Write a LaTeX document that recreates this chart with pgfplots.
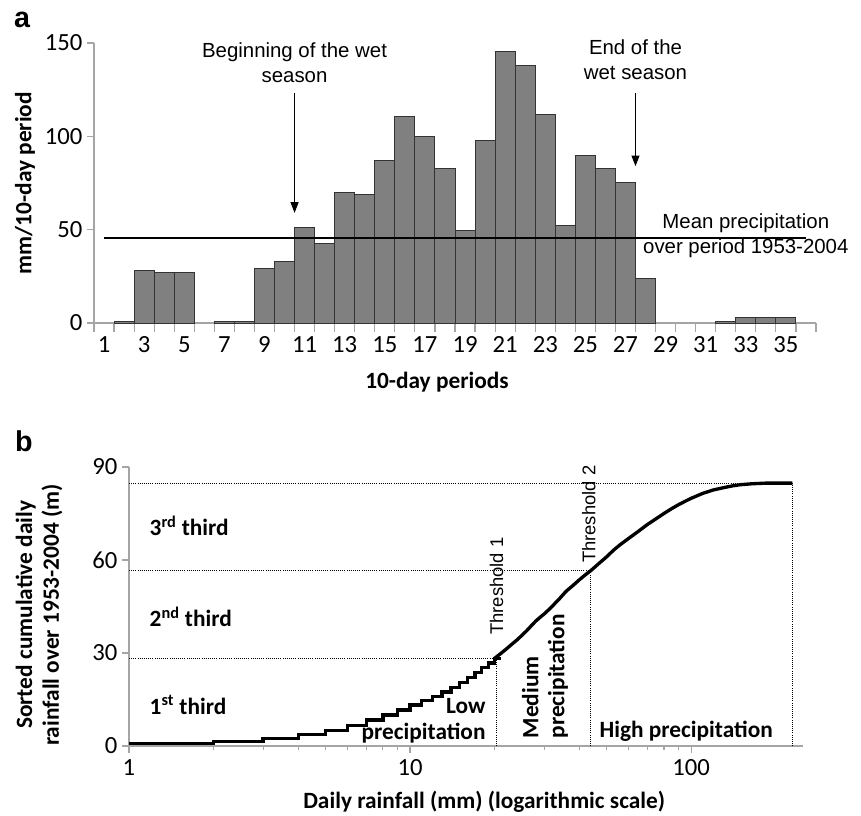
\documentclass[border=0pt]{standalone}
\usepackage{pgfplots}
\pgfplotsset{compat=1.18}
\usepackage{fontspec}
\setmainfont{Carlito}
\newfontfamily\arial{Liberation Sans}
\usetikzlibrary{arrows.meta}
\definecolor{axgray}{RGB}{165,165,165}
\definecolor{barfill}{RGB}{128,128,128}

\pgfplotstableread{
period value
2 1
3 28
4 27
5 27
7 1
8 1
9 29
10 33
11 51
12 42.5
13 70
14 69
15 87
16 110.5
17 100
18 82.7
19 49.5
20 98
21 145.3
22 137.7
23 111.8
24 52.1
25 89.6
26 82.7
27 75.2
28 23.6
32 1
33 3
34 3
35 3
}\bars

\pgfplotstableread{
x y
1 0.9
2 1.4
3 2.5
4 3.7
5 5.0
6 6.7
7 8.4
8 10.0
9 11.6
10 13.2
11 14.6
12 16.0
13 17.4
14 18.9
15 20.5
16 22.2
17 23.8
18 25.3
19 26.8
20 28.3
21 28.3
}\curvelow

\pgfplotstableread{
x y
20 28.3
21 29.8
22 31.3
23 32.8
24 34.2
25 35.7
26 37.2
27 38.8
28 40.3
29 41.5
30 42.6
31 43.8
32 45.0
33 46.3
34 47.5
35 48.8
36 50.0
38 51.8
40 53.6
42 55.2
44 56.6
47 58.9
50 61.0
53 63.2
56 65.0
60 67.0
65 69.3
70 71.5
75 73.3
80 75.0
85 76.5
90 77.8
95 78.9
100 79.9
110 81.5
120 82.6
130 83.3
140 83.9
150 84.3
165 84.6
185 84.8
229 84.8
}\curvehigh

\begin{document}
\begin{tikzpicture}
\useasboundingbox (0,0) rectangle (645.75pt,-612pt);
\pgfplotsset{
  every axis/.append style={
    scale only axis,
    axis x line=bottom, axis y line=left,
    axis line style={draw=axgray, line width=0.9pt, -},
    tick style={draw=axgray, line width=0.9pt},
    tick align=outside,
    major tick length=5.25pt,
    /pgf/number format/assume math mode=true,
    tick label style={font=\fontsize{18.5}{20}\selectfont},
    xticklabel style={text height=12pt, text depth=0pt},
    label style={font=\bfseries\fontsize{17.5}{20}\selectfont},
    clip=false,
  }
}
% ---------------- panel a
\begin{axis}[at={(70.5pt,-242.25pt)}, anchor=south west,
  width=541.5pt, height=210pt,
  xmin=0.5, xmax=36.5, ymin=0, ymax=150,
  xtick={1,3,...,35}, ytick={0,50,100,150},
  minor xtick={0.5,1.5,...,36.5},
  major x tick style={draw=none},
  minor x tick style={draw=axgray, line width=0.9pt},
  minor tick length=6.5pt,
  xticklabel style={yshift=-1pt},
  ylabel={mm/10-day period}, xlabel={10-day periods},
  ylabel style={at={(axis description cs:-0.0956,0.5)}, anchor=center},
  xlabel style={at={(axis description cs:0.475,-0.21)}, anchor=center},
]
\addplot[ybar, bar width=1, bar shift=0pt, fill=barfill, draw=black!80, line width=0.7pt] table[x=period, y=value] {\bars};
\addplot[black, line width=1.5pt] coordinates {(1,45.5) (36,45.5)};
\draw[line width=0.8pt, -{Triangle[length=8pt,width=6pt]}] (axis cs:10.5,123) -- (axis cs:10.5,59);
\draw[line width=0.8pt, -{Triangle[length=8pt,width=6pt]}] (axis cs:27.5,123) -- (axis cs:27.5,84);
\node[font=\arial\fontsize{15.3}{18.5}\selectfont, align=center] at (axis cs:10.5,139.5) {Beginning of the wet\\season};
\node[font=\arial\fontsize{15.3}{18.5}\selectfont, align=center] at (axis cs:27.5,141) {End of the\\wet season};
\node[font=\arial\fontsize{15.3}{18.5}\selectfont, align=center] at (axis cs:33.0,46.9) {Mean precipitation\\over period 1953-2004};
\end{axis}
% ---------------- panel b
\begin{axis}[at={(96.75pt,-559.5pt)}, anchor=south west,
  width=505.5pt, height=209.25pt,
  xmode=log, xmin=1, xmax=250, ymin=0, ymax=90,
  xtick={1,10,100}, xticklabels={1,10,100}, minor xtick={},
  ytick={0,30,60,90},
  xticklabel style={yshift=-1pt},
  ylabel={Sorted cumulative daily\\rainfall over 1953-2004 (m)},
  xlabel={Daily rainfall (mm) (logarithmic scale)},
  ylabel style={at={(axis description cs:-0.1335,0.47)}, anchor=center, align=center},
  xlabel style={at={(axis description cs:0.527,-0.2)}, anchor=center},
]
\addplot[black, line width=0.6pt, densely dotted] coordinates {(1,84.8) (229,84.8)};
\addplot[black, line width=0.6pt, densely dotted] coordinates {(1,56.5) (43.7,56.5)};
\addplot[black, line width=0.6pt, densely dotted] coordinates {(1,28.3) (20.2,28.3)};
\addplot[black, line width=0.6pt, densely dotted] coordinates {(20.2,0) (20.2,28.3)};
\addplot[black, line width=0.6pt, densely dotted] coordinates {(43.7,0) (43.7,56.5)};
\addplot[black, line width=0.6pt, densely dotted] coordinates {(229,0) (229,84.8)};
\addplot[const plot, black, line width=2.5pt] table[x=x, y=y] {\curvelow};
\addplot[black, line width=2.5pt, line join=round] table[x=x, y=y] {\curvehigh};
\node[anchor=west, font=\bfseries\fontsize{17.5}{20}\selectfont] at (axis cs:1.14,71) {3\textsuperscript{rd} third};
\node[anchor=west, font=\bfseries\fontsize{17.5}{20}\selectfont] at (axis cs:1.14,41.6) {2\textsuperscript{nd} third};
\node[anchor=west, font=\bfseries\fontsize{17.5}{20}\selectfont] at (axis cs:1.14,13.2) {1\textsuperscript{st} third};
\node[anchor=east, align=right, inner sep=1pt, font=\bfseries\fontsize{17.5}{19.5}\selectfont] at (axis cs:18.8,8.3) {Low\\precipitation};
\node[rotate=90, anchor=west, align=left, inner sep=0pt, font=\bfseries\fontsize{17.5}{19.5}\selectfont] at (axis cs:30.2,2.4) {Medium\\precipitation};
\node[rotate=90, anchor=west, inner sep=0pt, font=\arial\fontsize{13.8}{16}\selectfont] at (axis cs:20.3,35.8) {Threshold 1};
\node[rotate=90, anchor=west, inner sep=0pt, font=\arial\fontsize{13.8}{16}\selectfont] at (axis cs:43.2,59) {Threshold 2};
\node[font=\bfseries\fontsize{17.5}{20}\selectfont] at (axis cs:96,4.6) {High precipitation};
\end{axis}
\node[font=\arial\bfseries\fontsize{21.5}{24}\selectfont] at (16.5pt,-15pt) {a};
\node[font=\arial\bfseries\fontsize{21.5}{24}\selectfont] at (18pt,-331pt) {b};
\end{tikzpicture}
\end{document}
